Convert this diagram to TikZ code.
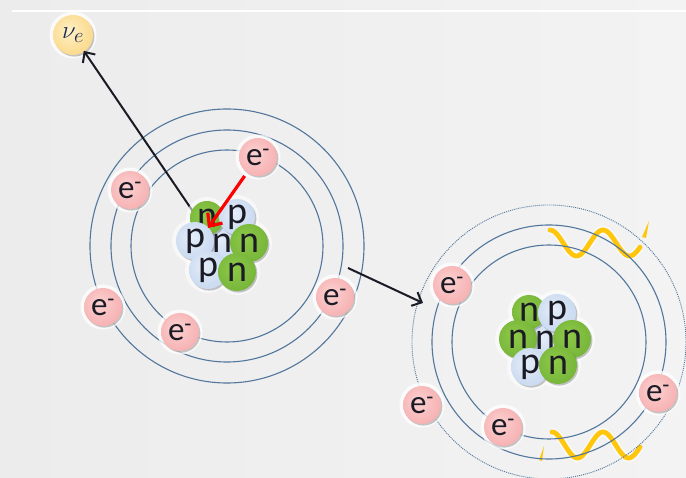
\documentclass[tikz,border=0pt]{standalone}
\usepackage{fontspec}
\setmainfont{Carlito}
\usetikzlibrary{arrows.meta,shadows}

\definecolor{orbit}{HTML}{52769C}
\definecolor{ink}{HTML}{1B1B26}
\definecolor{nuink}{HTML}{1E2A52}
\definecolor{pinkin}{HTML}{FCD2D2}
\definecolor{pinkout}{HTML}{F2999B}
\definecolor{bluein}{HTML}{E6EEF9}
\definecolor{blueout}{HTML}{B7CDEA}
\definecolor{greenin}{HTML}{8FC947}
\definecolor{greenout}{HTML}{5A9F2C}
\definecolor{nuin}{HTML}{FFF1C8}
\definecolor{nuout}{HTML}{F8CC68}
\definecolor{wavecol}{HTML}{FFC60B}
\definecolor{bgleft}{HTML}{ECECEC}
\definecolor{bgright}{HTML}{F3F3F3}

% soft radial fills for the particles
\pgfdeclareradialshading{epink}{\pgfpoint{-6bp}{6bp}}{color(0bp)=(pinkin); color(22bp)=(pinkin!55!pinkout); color(50bp)=(pinkout)}
\pgfdeclareradialshading{pblue}{\pgfpoint{-6bp}{6bp}}{color(0bp)=(bluein); color(22bp)=(bluein!50!blueout); color(50bp)=(blueout)}
\pgfdeclareradialshading{ngreen}{\pgfpoint{-6bp}{6bp}}{color(0bp)=(greenin); color(25bp)=(greenin!60!greenout); color(50bp)=(greenout)}
\pgfdeclareradialshading{nuyellow}{\pgfpoint{-6bp}{6bp}}{color(0bp)=(nuin); color(22bp)=(nuin!50!nuout); color(50bp)=(nuout)}

\tikzset{
  halo/.style={preaction={draw=white, line width=7pt, opacity=.75}},
  ball/.style={circle, inner sep=0pt, text=ink,
    drop shadow={shadow xshift=1.4pt, shadow yshift=-1.6pt, opacity=.22, fill=black}},
  electron/.style={halo, ball, minimum size=38pt, shade, shading=epink,
    font=\fontsize{33}{33}\selectfont},
  nucleon/.style={ball, shade, shading=#1, font=\fontsize{38}{38}\selectfont},
  neutrino/.style={halo, ball, minimum size=40pt, shade, shading=nuyellow,
    text=nuink, font=\fontsize{30}{30}\selectfont},
  orbitline/.style={draw=orbit, line width=1.1pt},
  outerdotted/.style={draw=orbit, line width=.9pt, dash pattern=on 1pt off 1pt},
  emission/.style={draw=ink, line width=2pt, -{Straight Barb[length=8pt,width=15pt]}},
  capture/.style={draw=red, line width=3.2pt, -{Straight Barb[length=10pt,width=18pt]}},
  photon/.style={draw=wavecol, line width=4.8pt, line cap=round,
    preaction={draw=white, line width=8pt, opacity=.6}},
}

\begin{document}
\begin{tikzpicture}[x=1pt,y=-1pt]
  \useasboundingbox (0,0) rectangle (686,478);
  \clip (0,0) rectangle (686,478);

  % backdrop and the thin rule along the top
  \fill[left color=bgleft, right color=bgright] (0,0) rectangle (686,478);
  \draw[white, line width=2.5pt] (12,11) -- (686,11);

  \coordinate (atomA) at (227,246);
  \coordinate (atomB) at (549,342);

  % gamma photons leaving the second atom
  \draw[photon] plot[variable=\t, domain=0:90, samples=70, smooth]
    ({550+\t}, {243-13*cos(6.7925*\t)});
  \fill[wavecol] (649,221) -- (646,238) -- (642,237) -- cycle;
  \draw[photon] plot[variable=\t, domain=0:88, samples=70, smooth]
    ({552+\t}, {445-13*cos(7.0588*\t)});
  \fill[wavecol] (544,446) -- (542,461) -- (539,460) -- cycle;

  % electron shells
  \foreach \r in {96,116,137} \draw[orbitline] (atomA) circle (\r);
  \foreach \r in {97,117} \draw[orbitline] (atomB) circle (\r);
  \draw[outerdotted] (atomB) circle (137);

  % electrons of the first atom
  \node[electron] (la1) at (130,190) {e\textsuperscript{-}};
  \node[electron] (la2) at (258,157) {e\textsuperscript{-}};
  \node[electron] (la3) at (103,307) {e\textsuperscript{-}};
  \node[electron] (la4) at (180,332) {e\textsuperscript{-}};
  \node[electron] (la5) at (335,297) {e\textsuperscript{-}};

  % electrons of the second atom
  \node[electron] (lb1) at (452,285) {e\textsuperscript{-}};
  \node[electron] (lb2) at (422,405) {e\textsuperscript{-}};
  \node[electron] (lb3) at (503,427) {e\textsuperscript{-}};
  \node[electron] (lb4) at (658,393) {e\textsuperscript{-}};

  % neutrino and its track from the first nucleus
  \node[neutrino] (nu) at (73,35) {$\nu_e$};
  \coordinate (nustart) at (194,213);
  \draw[emission, shorten >=-1pt] (nustart) -- (nu);

  % transition arrow between the two atoms
  \coordinate (aout) at (348,268);
  \coordinate (bin) at (423,303);
  \draw[emission] (aout) -- (bin);

  % first nucleus: white glow, then nucleons back to front
  \def\nucA{222/243/17/pblue/n, 207/218/17/ngreen/n, 237/217/18/pblue/p, 249/243/19/ngreen/n, 195/241/19/pblue/p, 208/270/19/pblue/p, 237/272/19/ngreen/n}
  \foreach \x/\y/\r/\k/\t in \nucA \fill[white, opacity=.55] (\x,\y) circle (\r+4);
  \foreach \x/\y/\r/\k/\t [count=\i] in \nucA
    \node[nucleon=\k, minimum size={2*\r*1pt}] (na\i) at (\x,\y) {\t};

  % second nucleus
  \def\nucB{545/340/17/pblue/n, 529/312/17/ngreen/n, 557/313/19/pblue/p, 518/339/19/ngreen/n, 572/339/19/ngreen/n, 530/367/19/pblue/p, 558/365/19/ngreen/n}
  \foreach \x/\y/\r/\k/\t in \nucB \fill[white, opacity=.55] (\x,\y) circle (\r+4);
  \foreach \x/\y/\r/\k/\t [count=\i] in \nucB
    \node[nucleon=\k, minimum size={2*\r*1pt}] (nb\i) at (\x,\y) {\t};

  % electron capture by the first nucleus
  \coordinate (capt) at (208,228);
  \draw[capture, shorten <=4pt] (la2) -- (capt);
\end{tikzpicture}
\end{document}
